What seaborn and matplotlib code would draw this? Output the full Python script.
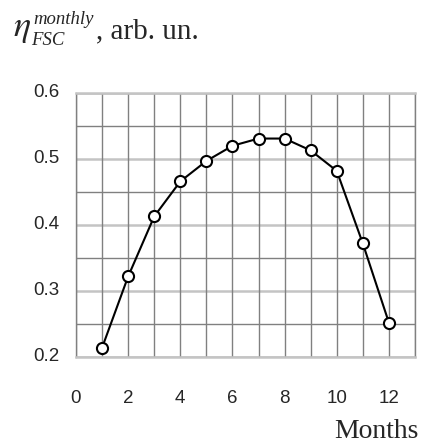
import numpy as np
import pandas as pd
import matplotlib
matplotlib.use("Agg")
import matplotlib.pyplot as plt
import matplotlib.transforms as mtransforms
import seaborn as sns

# ==============================
# DATA
# ==============================

months = [1, 2, 3, 4, 5, 6, 7, 8, 9, 10, 11, 12]
eta_fsc = [0.214, 0.322, 0.413, 0.466, 0.497, 0.520, 0.531, 0.531, 0.513, 0.482, 0.372, 0.252]

x_grid = list(range(0, 14))
y_grid = [0.20, 0.25, 0.30, 0.35, 0.40, 0.45, 0.50, 0.55, 0.60]

df = pd.DataFrame({"month": months, "eta": eta_fsc})

# ==============================
# PLOT
# ==============================

sns.set_style("white")
plt.rcParams["font.family"] = ["Liberation Sans", "DejaVu Sans"]
plt.rcParams["mathtext.fontset"] = "stix"

W, H = 421, 448
fig = plt.figure(figsize=(W / 100, H / 100), dpi=100)
ax = fig.add_axes([0.1805, 0.2031, 0.8052, 0.5893])

ax.set_xlim(0, 13)
ax.set_ylim(0.2, 0.6)

# every grid line is a tick; only some get a label
ax.set_xticks(x_grid)
ax.set_xticklabels([str(v) if v % 2 == 0 and v <= 12 else "" for v in x_grid])
ax.set_yticks(y_grid)
ax.set_yticklabels([f"{v:.1f}" if round(v * 100) % 10 == 0 else "" for v in y_grid])

ax.grid(True, which="major", color="#808080", linewidth=1.0)
for v, gl in zip(y_grid, ax.get_ygridlines()):
    if round(v * 100) % 10 == 0:
        gl.set_color("#c4c4c4")
        gl.set_linewidth(1.8)
ax.set_axisbelow(True)
ax.xaxis.set_zorder(0.6)

sns.lineplot(
    data=df, x="month", y="eta", ax=ax,
    color="black", linewidth=1.5,
    marker="o", markersize=8,
    markerfacecolor="white", markeredgecolor="black", markeredgewidth=1.5,
)

for side in ["left", "right"]:
    ax.spines[side].set_color("#808080")
    ax.spines[side].set_linewidth(1.0)
for side in ["top", "bottom"]:
    ax.spines[side].set_color("#c4c4c4")
    ax.spines[side].set_linewidth(1.8)

ax.tick_params(axis="x", length=0, pad=24, labelsize=13.5)
ax.tick_params(axis="y", length=0, pad=12, labelsize=13.5)

# y labels sit a little above their grid lines in the original
shift = mtransforms.ScaledTranslation(0, 3 / 100, fig.dpi_scale_trans)
for lab in ax.get_yticklabels():
    lab.set_transform(lab.get_transform() + shift)

ax.set_xlabel("")
ax.set_ylabel("")

# y-axis title: eta with super/subscript, then the unit
fig.text(13 / W, 1 - 36 / H, r"$\eta$", fontsize=26, ha="left", va="baseline")
fig.text(33 / W, 1 - 24 / H, "monthly", family="Liberation Serif", style="italic",
         fontsize=13.5, ha="left", va="baseline")
fig.text(31 / W, 1 - 45 / H, "FSC", family="Liberation Serif", style="italic",
         fontsize=13.5, ha="left", va="baseline")
fig.text(96 / W, 1 - 38 / H, ", arb. un.", family="Liberation Serif",
         fontsize=21, ha="left", va="baseline")

fig.text(0.995, 0.022, "Months", family="Liberation Serif", fontsize=20,
         ha="right", va="baseline")

plt.savefig("out.png", dpi=100)
